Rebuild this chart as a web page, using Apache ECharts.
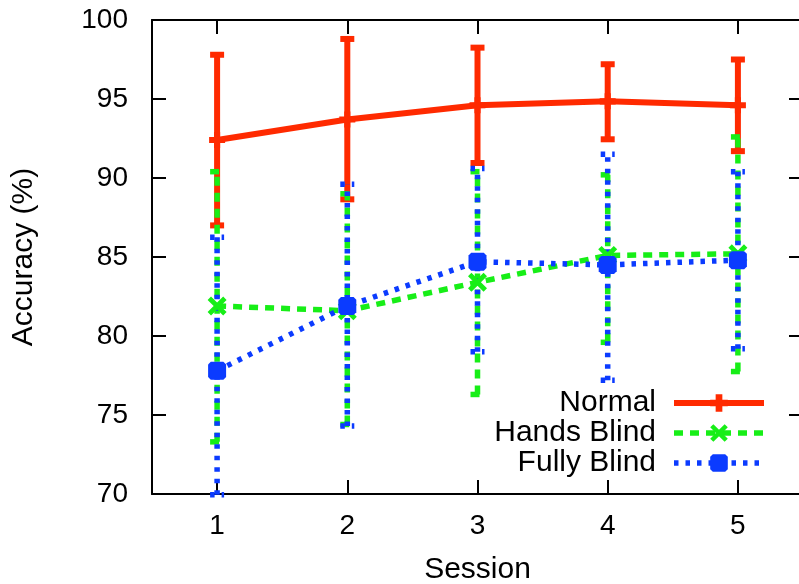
<!DOCTYPE html>
<html>
<head>
    <meta charset="utf-8">
    <script src="https://cdn.jsdelivr.net/npm/echarts@6/dist/echarts.min.js"></script>
</head>
<body style="margin:0;background:#fff;">
    <div id="main" style="width:799px;height:584px;"></div>
    <script type="text/javascript">
        var myChart = echarts.init(document.getElementById('main'));

        // sessions on the x axis
        var sessions = ['1', '2', '3', '4', '5'];
        var yTicks = [70, 100, 5];   // min, max, step

        // mean accuracy and error bar ends (low / high)
        var normalMean = [92.4, 93.7, 94.6, 94.85, 94.6];
        var normalLow  = [87.0, 88.65, 90.95, 92.45, 91.7];
        var normalHigh = [97.8, 98.8, 98.25, 97.2, 97.5];

        var handsMean = [81.9, 81.6, 83.4, 85.1, 85.2];
        var handsLow  = [73.3, 74.4, 76.3, 79.6, 77.75];
        var handsHigh = [90.4, 89.0, 90.4, 90.2, 92.6];

        var fullyMean = [77.8, 81.9, 84.7, 84.5, 84.8];
        var fullyLow  = [69.95, 74.3, 79.0, 77.2, 79.2];
        var fullyHigh = [86.25, 89.6, 90.6, 91.5, 90.4];

        var RED = '#ff2a00', GREEN = '#17ee17', BLUE = '#0b3bff';
        var FONT = '"Liberation Sans", Arial, sans-serif';

        // filled marker shapes (gnuplot plus, cross, solid box)
        var PLUS = 'path://M3.1,0H6.9V3.1H10V6.9H6.9V10H3.1V6.9H0V3.1H3.1Z';
        var CROSS = 'path://M0,1.8L1.8,0L5,3.2L8.2,0L10,1.8L6.8,5L10,8.2L8.2,10L5,6.8L1.8,10L0,8.2L3.2,5Z';
        var BOX = 'path://M1.5,0H8.5L10,1.5V8.5L8.5,10H1.5L0,8.5V1.5Z';

        function barData(low, high) {
            return low.map(function (v, i) { return [i, v, high[i]]; });
        }

        // error bar: vertical line plus small caps
        function errorBar(color, dash, width) {
            return function (params, api) {
                var x = api.value(0);
                var lo = api.coord([x, api.value(1)]);
                var hi = api.coord([x, api.value(2)]);
                var h = 7;
                var st = { stroke: color, lineWidth: width, lineDash: dash, fill: null, lineCap: 'butt' };
                return {
                    type: 'group',
                    children: [
                        { type: 'line', shape: { x1: lo[0], y1: lo[1], x2: hi[0], y2: hi[1] }, style: st },
                        { type: 'line', shape: { x1: lo[0] - h, y1: lo[1], x2: lo[0] + h, y2: lo[1] }, style: st },
                        { type: 'line', shape: { x1: hi[0] - h, y1: hi[1], x2: hi[0] + h, y2: hi[1] }, style: st }
                    ]
                };
            };
        }

        function errSeries(name, color, dash, width, low, high) {
            return {
                name: name,
                type: 'custom',
                renderItem: errorBar(color, dash, width),
                encode: { x: 0, y: [1, 2] },
                data: barData(low, high),
                silent: true
            };
        }

        function lineSeries(name, color, dash, width, data, symbol, size) {
            return {
                name: name,
                type: 'line',
                data: data,
                symbol: symbol,
                symbolSize: size,
                showAllSymbol: true,
                lineStyle: { color: color, width: width, type: dash, cap: 'butt' },
                itemStyle: { color: color, borderWidth: 0 },
                emphasis: { disabled: true }
            };
        }

        var tickStyle = { show: true, inside: true, length: 14, alignWithLabel: true, lineStyle: { color: '#000', width: 2 } };
        var lineAxis = { lineStyle: { color: '#000', width: 2 } };

        var option = {
            animation: false,
            backgroundColor: '#fff',
            grid: { left: 152, right: -4, top: 20, bottom: 90, outerBoundsMode: 'none', containLabel: false },
            legend: {
                orient: 'vertical',
                align: 'right',
                right: 32,
                top: 388,
                padding: 0,
                itemGap: 0,
                itemWidth: 90,
                itemHeight: 22,
                selectedMode: false,
                data: ['Normal', 'Hands Blind', 'Fully Blind'],
                lineStyle: { width: 'inherit' },
                textStyle: { fontFamily: FONT, fontSize: 30, color: '#000', padding: [0, 13, 0, 0] }
            },
            xAxis: [
                {
                    type: 'category',
                    data: sessions,
                    boundaryGap: true,
                    name: 'Session',
                    nameLocation: 'middle',
                    nameGap: 61,
                    nameTextStyle: { fontFamily: FONT, fontSize: 30, color: '#000' },
                    axisLine: lineAxis,
                    axisTick: tickStyle,
                    axisLabel: { fontFamily: FONT, fontSize: 28, color: '#000', margin: 18 },
                    splitLine: { show: false }
                },
                {
                    type: 'category',
                    data: sessions,
                    position: 'top',
                    boundaryGap: true,
                    axisLine: lineAxis,
                    axisTick: tickStyle,
                    axisLabel: { show: false },
                    splitLine: { show: false }
                }
            ],
            yAxis: [
                {
                    type: 'value',
                    min: yTicks[0],
                    max: yTicks[1],
                    interval: yTicks[2],
                    name: 'Accuracy (%)',
                    nameLocation: 'middle',
                    nameGap: 113,
                    nameTextStyle: { fontFamily: FONT, fontSize: 30, color: '#000' },
                    axisLine: { show: true, lineStyle: { color: '#000', width: 2 } },
                    axisTick: { show: true, inside: true, length: 14, lineStyle: { color: '#000', width: 2 } },
                    axisLabel: { fontFamily: FONT, fontSize: 28, color: '#000', margin: 24 },
                    splitLine: { show: false }
                },
                {
                    type: 'value',
                    min: yTicks[0],
                    max: yTicks[1],
                    interval: yTicks[2],
                    position: 'right',
                    axisLine: { show: true, lineStyle: { color: '#000', width: 2 } },
                    axisTick: { show: true, inside: true, length: 14, lineStyle: { color: '#000', width: 2 } },
                    axisLabel: { show: false },
                    splitLine: { show: false }
                }
            ],
            series: [
                errSeries('err-normal', RED, null, 6, normalLow, normalHigh),
                lineSeries('Normal', RED, 'solid', 6, normalMean, PLUS, 16),
                errSeries('err-hands', GREEN, [9, 7], 5.5, handsLow, handsHigh),
                lineSeries('Hands Blind', GREEN, [9, 7], 5.5, handsMean, CROSS, 19),
                errSeries('err-fully', BLUE, [4.5, 7], 5.5, fullyLow, fullyHigh),
                lineSeries('Fully Blind', BLUE, [4.5, 7], 5.5, fullyMean, BOX, 18)
            ]
        };

        myChart.setOption(option);
    </script>
</body>
</html>
